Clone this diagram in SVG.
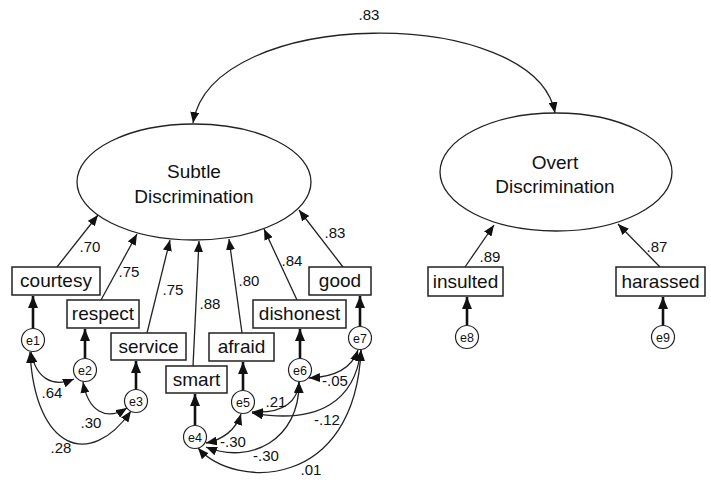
<svg xmlns="http://www.w3.org/2000/svg" width="711" height="487" viewBox="0 0 711 487">
<style>
.bg{fill:#fff}
.box{fill:#fff;stroke:#222;stroke-width:1.5}
.lat{fill:#fff;stroke:#222;stroke-width:1.3}
.err{fill:#fff;stroke:#222;stroke-width:1.2}
.t{font-family:"Liberation Sans",Arial,sans-serif;font-size:19px;fill:#111;text-anchor:middle}
.e{font-family:"Liberation Sans",Arial,sans-serif;font-size:12.5px;fill:#111;text-anchor:middle}
.n{font-family:"Liberation Sans",Arial,sans-serif;font-size:15px;fill:#111;text-anchor:middle}
.ld{fill:none;stroke:#222;stroke-width:1.3;marker-end:url(#a)}
.ea{fill:none;stroke:#111;stroke-width:2.6;marker-end:url(#b)}
.cv{fill:none;stroke:#222;stroke-width:1.3;marker-start:url(#a);marker-end:url(#a)}
</style>
<defs>
<marker id="a" viewBox="0 0 11 9" refX="11" refY="4.5" markerWidth="11" markerHeight="9" markerUnits="userSpaceOnUse" orient="auto-start-reverse"><path d="M0,0 L11,4.5 L0,9 z" fill="#111"/></marker>
<marker id="b" viewBox="0 0 12 10" refX="12" refY="5" markerWidth="12" markerHeight="10" markerUnits="userSpaceOnUse" orient="auto"><path d="M0,0 L12,5 L0,10 z" fill="#111"/></marker>
</defs>
<rect class="bg" x="0" y="0" width="711" height="487"/>

<g id="connectors">
<path class="cv" d="M193,123 C212,5 535,5 555,113"/>
<text class="n" x="369" y="20">.83</text>
<line class="ld" x1="57" y1="267" x2="98" y2="215"/>
<line class="ld" x1="101" y1="300" x2="137" y2="234"/>
<line class="ld" x1="147" y1="333" x2="170" y2="240"/>
<line class="ld" x1="193" y1="366" x2="199" y2="241"/>
<line class="ld" x1="242" y1="333" x2="229" y2="239"/>
<line class="ld" x1="297" y1="300" x2="264" y2="229"/>
<line class="ld" x1="343" y1="267" x2="299" y2="210"/>
<line class="ld" x1="465" y1="267" x2="494" y2="225"/>
<line class="ld" x1="660" y1="267" x2="618" y2="224"/>
<text class="n" x="90" y="252">.70</text>
<text class="n" x="129" y="277">.75</text>
<text class="n" x="173" y="295">.75</text>
<text class="n" x="210" y="309">.88</text>
<text class="n" x="249" y="286">.80</text>
<text class="n" x="292" y="266">.84</text>
<text class="n" x="335" y="238">.83</text>
<text class="n" x="490" y="262">.89</text>
<text class="n" x="657" y="252">.87</text>
<line class="ea" x1="33" y1="328" x2="33" y2="296"/>
<line class="ea" x1="85" y1="358" x2="85" y2="329"/>
<line class="ea" x1="136" y1="389" x2="136" y2="361"/>
<line class="ea" x1="195" y1="425" x2="195" y2="394"/>
<line class="ea" x1="243" y1="390" x2="243" y2="362"/>
<line class="ea" x1="300" y1="358" x2="300" y2="329"/>
<line class="ea" x1="360" y1="326" x2="360" y2="296"/>
<line class="ea" x1="467" y1="325" x2="467" y2="297"/>
<line class="ea" x1="663" y1="325" x2="663" y2="297"/>
<path class="cv" d="M31,352 C36,378 52,388 74,379"/>
<path class="cv" d="M83,382 C88,410 105,422 127,408"/>
<path class="cv" d="M30,352 C35,450 90,470 131,411"/>
<text class="n" x="52" y="398">.64</text>
<text class="n" x="91" y="428">.30</text>
<text class="n" x="61" y="453">.28</text>
<path class="cv" d="M206,443 C222,440 236,430 241,414"/>
<path class="cv" d="M206,447 C250,465 300,440 299,382"/>
<path class="cv" d="M198,448 C235,490 355,490 361,350"/>
<path class="cv" d="M252,412 C285,414 298,400 299,382"/>
<path class="cv" d="M252,413 C320,425 355,400 361,350"/>
<path class="cv" d="M309,378 C335,377 352,368 358,350"/>
<text class="n" x="335" y="386">-.05</text>
<text class="n" x="276" y="407">.21</text>
<text class="n" x="327" y="425">-.12</text>
<text class="n" x="233" y="447">-.30</text>
<text class="n" x="266" y="461">-.30</text>
<text class="n" x="311" y="475">.01</text>
</g>

<g id="subtle"><ellipse class="lat" cx="194" cy="182" rx="117" ry="58"/><text class="t" x="194" y="178">Subtle</text><text class="t" x="194" y="203">Discrimination</text></g>
<g id="overt"><ellipse class="lat" cx="556" cy="172" rx="116" ry="59"/><text class="t" x="555" y="169">Overt</text><text class="t" x="555" y="193">Discrimination</text></g>

<g id="courtesy"><rect class="box" x="12" y="267" width="88" height="28"/><text class="t" x="56" y="287">courtesy</text></g>
<g id="respect"><rect class="box" x="67" y="300" width="72" height="28"/><text class="t" x="103" y="320">respect</text></g>
<g id="service"><rect class="box" x="111" y="333" width="75" height="27"/><text class="t" x="148.5" y="353">service</text></g>
<g id="smart"><rect class="box" x="166" y="366" width="61" height="27"/><text class="t" x="196.5" y="386">smart</text></g>
<g id="afraid"><rect class="box" x="209" y="333" width="65" height="28"/><text class="t" x="241.5" y="353">afraid</text></g>
<g id="dishonest"><rect class="box" x="253" y="300" width="93" height="28"/><text class="t" x="299.5" y="320">dishonest</text></g>
<g id="good"><rect class="box" x="309" y="267" width="62" height="28"/><text class="t" x="340" y="287">good</text></g>
<g id="insulted"><rect class="box" x="428" y="267" width="75" height="29"/><text class="t" x="465.5" y="288">insulted</text></g>
<g id="harassed"><rect class="box" x="616" y="267" width="89" height="29"/><text class="t" x="660.5" y="288">harassed</text></g>

<g id="e1"><circle class="err" cx="33" cy="340" r="11.5"/><text class="e" x="33" y="344.5">e1</text></g>
<g id="e2"><circle class="err" cx="85" cy="370" r="11.5"/><text class="e" x="85" y="374.5">e2</text></g>
<g id="e3"><circle class="err" cx="136" cy="401" r="11.5"/><text class="e" x="136" y="405.5">e3</text></g>
<g id="e4"><circle class="err" cx="195" cy="437" r="11.5"/><text class="e" x="195" y="441.5">e4</text></g>
<g id="e5"><circle class="err" cx="243" cy="402" r="11.5"/><text class="e" x="243" y="406.5">e5</text></g>
<g id="e6"><circle class="err" cx="300" cy="370" r="11.5"/><text class="e" x="300" y="374.5">e6</text></g>
<g id="e7"><circle class="err" cx="360" cy="338" r="11.5"/><text class="e" x="360" y="342.5">e7</text></g>
<g id="e8"><circle class="err" cx="467" cy="337" r="11.5"/><text class="e" x="467" y="341.5">e8</text></g>
<g id="e9"><circle class="err" cx="663" cy="337" r="11.5"/><text class="e" x="663" y="341.5">e9</text></g>
</svg>
